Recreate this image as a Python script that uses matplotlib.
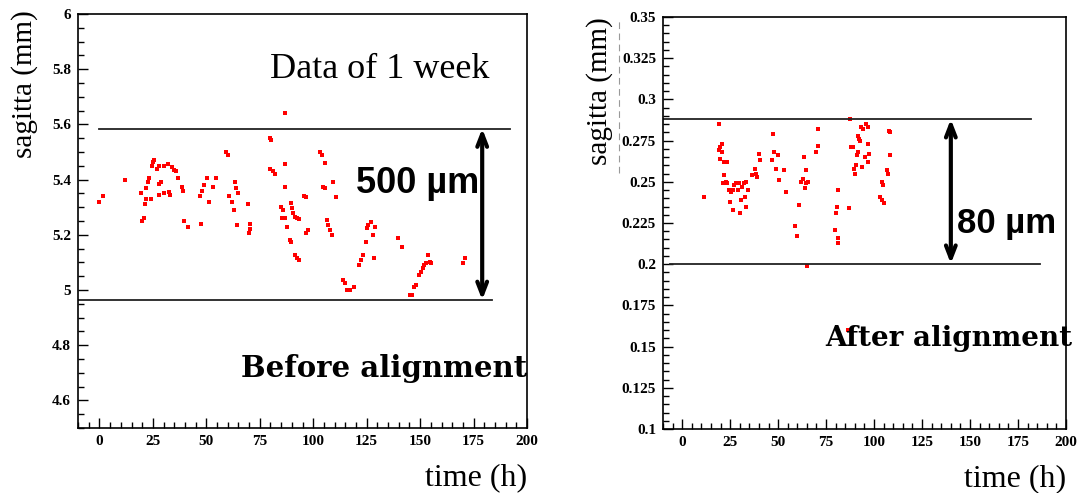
import numpy as np
import matplotlib
matplotlib.use("Agg")
import matplotlib.pyplot as plt
from matplotlib.ticker import MultipleLocator
from matplotlib.lines import Line2D

# before alignment: time (h) / sagitta (mm)
t_before = [0, 1.6, 11.8, 19.6, 20, 21, 21.2, 22, 22, 22.6, 23.2, 24, 24.5, 25, 25.7,
            27, 27.8, 28, 29, 28, 30.2, 31.9, 30.2, 32.4, 33, 33.8, 34.8, 35.6, 36.8,
            38.4, 39.2, 39.5, 41.2, 47, 47.4, 48.2, 49, 50.2, 51.1, 53.1, 54.7, 59.2,
            60.1, 60.8, 61.8, 63, 63.2, 64, 64.9, 64.5, 69.4, 69.9, 70.6, 70.6, 79.7,
            80.4, 80, 81.4, 82, 86.6, 86.6, 86.9, 85, 85.8, 85.3, 86.6, 87.6, 89, 89.5,
            89.5, 90.2, 90.7, 91.5, 92.3, 93.5, 91.5, 92.3, 93.1, 95.9, 96.7, 96.7,
            97.7, 103.3, 104.1, 104.6, 105.4, 105.7, 109, 110.6, 106.2, 107, 107.8,
            108.7, 114, 114.8, 116, 117.3, 119, 121.4, 122.5, 123.4, 124.5, 125, 125.8,
            127.1, 127.8, 129.1, 128.3, 139.7, 141.3, 145.4, 146.2, 147, 148.2, 149.5,
            150.3, 151.1, 152, 152.8, 153.6, 154.4, 155.2, 170, 170.8]
s_before = [5.32, 5.34, 5.40, 5.35, 5.25, 5.26, 5.31, 5.33, 5.37, 5.39, 5.405, 5.33, 5.45,
            5.465, 5.47, 5.44, 5.45, 5.385, 5.39, 5.345, 5.45, 5.455, 5.35, 5.355, 5.345,
            5.447, 5.435, 5.43, 5.405, 5.375, 5.36, 5.25, 5.23, 5.34, 5.24, 5.36, 5.38,
            5.405, 5.32, 5.375, 5.405, 5.50, 5.49, 5.34, 5.32, 5.29, 5.39, 5.37, 5.35,
            5.235, 5.31, 5.205, 5.22, 5.24, 5.55, 5.545, 5.44, 5.43, 5.42, 5.643, 5.457,
            5.375, 5.30, 5.29, 5.26, 5.26, 5.23, 5.18, 5.175, 5.316, 5.296, 5.28, 5.266,
            5.26, 5.256, 5.127, 5.115, 5.109, 5.34, 5.336, 5.205, 5.217, 5.50, 5.49,
            5.374, 5.368, 5.46, 5.39, 5.338, 5.254, 5.235, 5.217, 5.20, 5.036, 5.024,
            5.00, 5.00, 5.012, 5.09, 5.109, 5.127, 5.175, 5.224, 5.236, 5.248, 5.20,
            5.23, 5.115, 5.19, 5.157, 4.982, 4.982, 5.012, 5.018, 5.054, 5.066, 5.078,
            5.09, 5.097, 5.127, 5.103, 5.097, 5.097, 5.115]

# after alignment
t_after = [11.4, 19, 19.4, 19.9, 20.5, 20.8, 19.6, 21.7, 22.6, 23.5, 21.7, 21.4, 22.6,
           23.5, 24.5, 25.4, 25, 26.3, 27.2, 28.1, 26.6, 29, 29.5, 29.9, 30.4, 31.3, 32,
           32.6, 33.5, 33.5, 34.4, 36.2, 38, 38.6, 38.9, 39.9, 40.8, 47.1, 46.7, 48,
           49.8, 48.9, 50.7, 53.1, 54.3, 58.9, 59.8, 60.7, 62, 62.9, 63.4, 64.3, 63.9,
           64.7, 65.8, 64.9, 69.7, 70.6, 71, 79.7, 80.3, 80.6, 81, 81, 81, 87, 87.5,
           87.9, 88.8, 89.3, 90, 90.6, 91.1, 91.8, 91.5, 92.4, 92.9, 93.3, 94.2, 93.7,
           95.1, 96, 96.6, 96.9, 97.3, 96.9, 103.3, 104.2, 105.1, 104.2, 104.7, 106.5,
           107.4, 108.3, 107.8, 108.3, 86.6]
s_after = [0.2405, 0.2853, 0.269, 0.271, 0.273, 0.268, 0.264, 0.262, 0.262, 0.262, 0.254,
           0.249, 0.250, 0.249, 0.245, 0.244, 0.238, 0.245, 0.248, 0.249, 0.233, 0.245,
           0.249, 0.231, 0.239, 0.247, 0.249, 0.241, 0.235, 0.250, 0.245, 0.254, 0.258,
           0.255, 0.253, 0.267, 0.263, 0.279, 0.263, 0.268, 0.266, 0.258, 0.251, 0.257,
           0.244, 0.223, 0.217, 0.236, 0.250, 0.252, 0.265, 0.257, 0.246, 0.249, 0.250,
           0.199, 0.268, 0.272, 0.282, 0.2207, 0.231, 0.235, 0.245, 0.2156, 0.213,
           0.234, 0.2883, 0.271, 0.271, 0.258, 0.255, 0.260, 0.266, 0.268, 0.278,
           0.276, 0.275, 0.283, 0.282, 0.259, 0.265, 0.285, 0.283, 0.273, 0.267, 0.262,
           0.241, 0.239, 0.237, 0.250, 0.248, 0.257, 0.255, 0.266, 0.281, 0.280, 0.160]

xticks = [0, 25, 50, 75, 100, 125, 150, 175, 200]
yticks_before = [4.6, 4.8, 5.0, 5.2, 5.4, 5.6, 5.8, 6.0]
ylabels_before = ["4.6", "4.8", "5", "5.2", "5.4", "5.6", "5.8", "6"]
yticks_after = [0.1, 0.125, 0.15, 0.175, 0.2, 0.225, 0.25, 0.275, 0.3, 0.325, 0.35]
ylabels_after = ["0.1", "0.125", "0.15", "0.175", "0.2", "0.225", "0.25", "0.275",
                 "0.3", "0.325", "0.35"]

# band lines: (y, x start, x end)
band_before = [(5.585, 0, 192), (4.964, -10, 183.5)]
band_after = [(0.288, -10, 182), (0.2003, -6.3, 186.6)]

SERIF = "Liberation Serif"
tickfont = dict(family=SERIF, weight="bold", size=11)

fig = plt.figure(figsize=(10.81, 4.93), dpi=100)
ax1 = fig.add_axes([0.0722, 0.1318, 0.4154, 0.8398])
ax2 = fig.add_axes([0.6133, 0.1298, 0.3728, 0.8357])


def style(ax, yt, yl, ymin, ymax, yminor):
    ax.set_xlim(-10, 200)
    ax.set_ylim(ymin, ymax)
    ax.set_xticks(xticks)
    ax.set_xticklabels([str(v) for v in xticks], fontdict=tickfont)
    ax.set_yticks(yt)
    ax.set_yticklabels(yl, fontdict=tickfont)
    ax.xaxis.set_minor_locator(MultipleLocator(5))
    ax.yaxis.set_minor_locator(MultipleLocator(yminor))
    ax.tick_params(which="both", direction="in", top=False, right=False, width=1)
    ax.tick_params(which="major", length=7, pad=5)
    ax.tick_params(which="minor", length=4)
    for sp in ax.spines.values():
        sp.set_linewidth(1.2)
    ax.set_xlabel("time (h)", family=SERIF, size=23)
    ax.xaxis.set_label_coords(1.0, -0.085)
    ax.xaxis.label.set_horizontalalignment("right")


style(ax1, yticks_before, ylabels_before, 4.5, 6.0, 0.05)
style(ax2, yticks_after, ylabels_after, 0.1, 0.35, 0.005)

ax1.scatter(t_before, s_before, s=7, marker="s", color="red", linewidths=0)
ax2.scatter(t_after, s_after, s=7, marker="s", color="red", linewidths=0)

for ax, band in ((ax1, band_before), (ax2, band_after)):
    for y, x0, x1 in band:
        ax.plot([x0, x1], [y, y], color="#222222", lw=1.3)

arrow = dict(arrowstyle="<->,head_length=0.9,head_width=0.35", color="black", lw=3,
             shrinkA=0, shrinkB=0)
ax1.annotate("", xy=(179, band_before[0][0]), xytext=(179, band_before[1][0]),
             arrowprops=arrow)
ax2.annotate("", xy=(140, band_after[0][0]), xytext=(140, band_after[1][0]),
             arrowprops=arrow)

ax1.text(131, 5.8, "Data of 1 week", family=SERIF, size=26, ha="center", va="center")
ax1.text(149, 5.386, "500 \u00b5m", family="Liberation Sans", weight="bold", size=26,
         ha="center", va="center")
ax1.text(133, 4.716, "Before alignment", family="DejaVu Serif", weight="bold", size=21,
         ha="center", va="center")
ax2.text(169, 0.2247, "80 \u00b5m", family="Liberation Sans", weight="bold", size=25,
         ha="center", va="center")
ax2.text(139, 0.155, "After alignment", family="DejaVu Serif", weight="bold", size=20,
         ha="center", va="center")

ax1.set_ylabel("sagitta (mm)", family=SERIF, size=21)
ax1.yaxis.set_label_coords(-0.09, 0.83)
ax2.set_ylabel("sagitta (mm)", family=SERIF, size=21)
ax2.yaxis.set_label_coords(-0.125, 0.82)

# scan artefact: faint dashed line beside the right y labels
fig.add_artist(Line2D([0.5725, 0.5725], [0.65, 0.96], transform=fig.transFigure,
                      color="#999999", lw=0.8, ls=(0, (6, 4))))

fig.savefig("out.png", dpi=100)
